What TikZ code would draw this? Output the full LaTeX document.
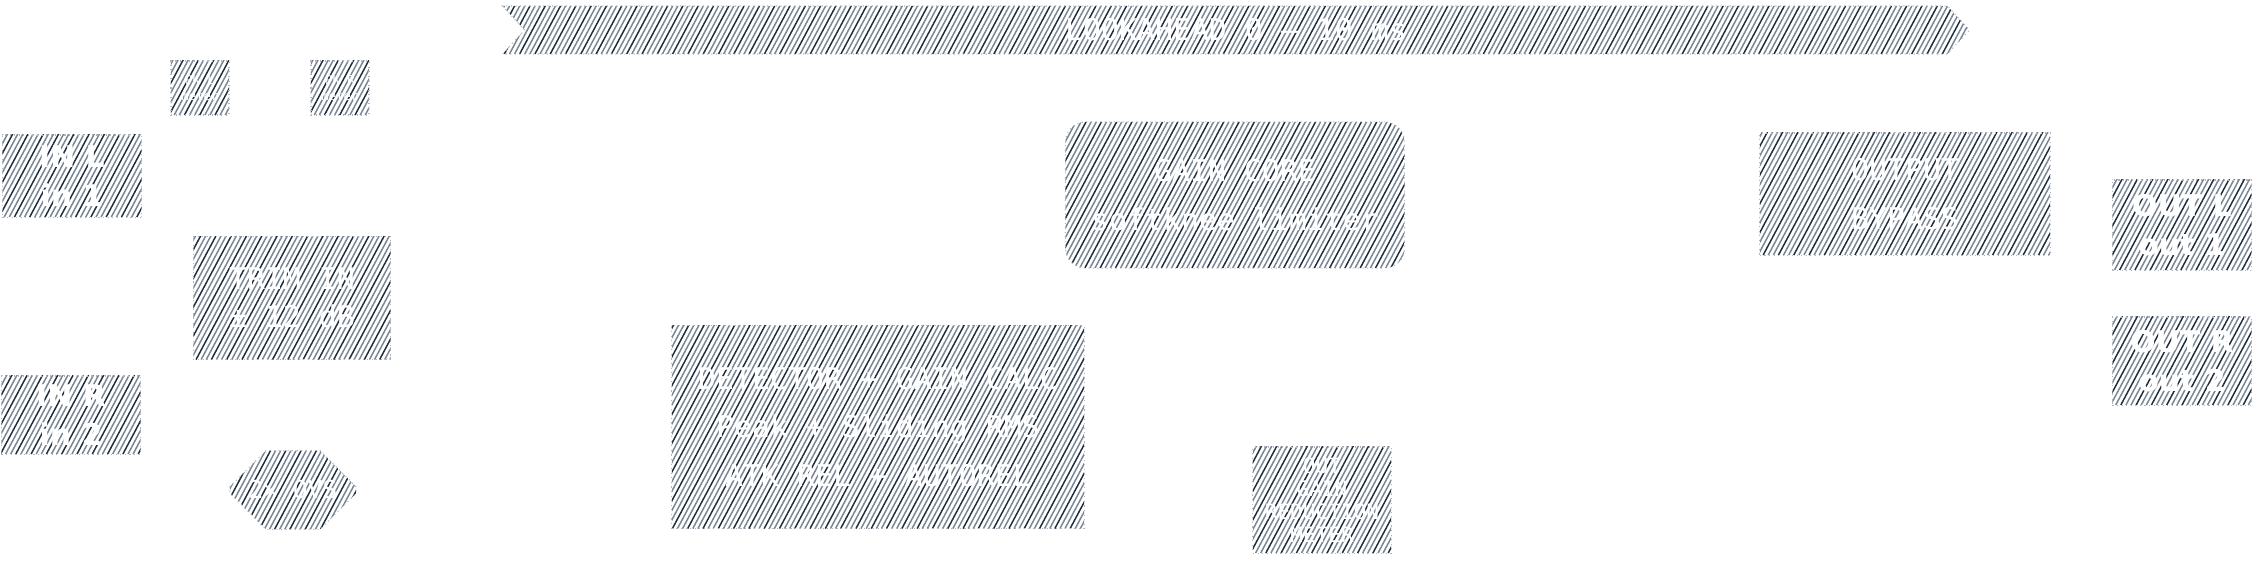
\documentclass[tikz,border=0pt]{standalone}
\usepackage{fontspec}
\setmonofont{DejaVu Sans Mono}
\setsansfont{DejaVu Sans}
\usetikzlibrary{shapes.symbols,shapes.misc}
\definecolor{hatchcol}{RGB}{32,45,60}
\definecolor{hatchlite}{RGB}{122,134,147}

% Diagonal hatching inside the current node
\newcommand\hatchlines{%
  \pgfpointdiff{\pgfpointanchor{path picture bounding box}{south west}}%
    {\pgfpointanchor{path picture bounding box}{north east}}%
  \pgfgetlastxy{\hatchw}{\hatchh}%
  \pgfmathtruncatemacro{\hatchn}{(\hatchw+\hatchh)/1.45}%
  \foreach \k in {0,...,\hatchn}{%
    \pgfmathtruncatemacro{\kmod}{mod(\k,3)}%
    \ifnum\kmod=0 \def\hc{hatchcol}\else\def\hc{hatchlite}\fi
    \draw[\hc, solid, line width=0.42pt]
      ([xshift=-0.6*\hatchh+\k*1.45pt]path picture bounding box.south west)
      -- ++(62:1.2*\hatchh);
  }}

\begin{document}
\begin{tikzpicture}[x=0.01cm, y=-0.01cm,
  % Block styles
  hatched/.style={rectangle, path picture={\hatchlines},
    draw=hatchcol!35, densely dotted, line width=0.3pt,
    text=white, inner sep=0pt, align=center},
  monotxt/.style={font=\fontsize{8.5pt}{13.9pt}\selectfont\ttfamily},
  portbox/.style={hatched, minimum width=1.39cm,
    font=\fontsize{8.5pt}{11pt}\selectfont\sffamily\bfseries},
  tinybox/.style={hatched, minimum width=0.58cm, minimum height=0.54cm,
    font=\fontsize{3.5pt}{4.5pt}\selectfont\ttfamily},
  procbox/.style={hatched, monotxt},
  % Banner style
  banner/.style={hatched, signal, signal to=east, signal from=west,
    signal pointer angle=95, monotxt},
]

% Picture frame
\useasboundingbox (0,0) rectangle (2253,584);

% Lookahead banner
\node[banner, minimum width=14.66cm, minimum height=0.48cm] (look) at (1236,30)
  {LOOKAHEAD 0 – 10 ms};

% --- Input side ---
\node[tinybox] (pkl) at (200,88) {PK L\\meter};
\node[tinybox] (pkr) at (340,88) {PK R\\meter};
\node[portbox, minimum height=0.82cm] (inl) at (72,176) {IN L\\in 1};
\node[procbox, minimum width=1.97cm, minimum height=1.23cm, font=\fontsize{8.5pt}{10.8pt}\selectfont\ttfamily]
  (trim) at (292,298) {TRIM IN\\± 12 dB};
\node[portbox, minimum height=0.78cm] (inr) at (71,415) {IN R\\in 2};
\node[hatched, chamfered rectangle, chamfered rectangle xsep=0.06cm,
  chamfered rectangle ysep=0.3cm, minimum width=1.26cm, minimum height=0.74cm,
  font=\fontsize{7pt}{8pt}\selectfont\ttfamily] (ovs) at (293,490) {2× OVS};

% --- Processing ---
\node[procbox, minimum width=4.12cm, minimum height=2.03cm] (det) at (878,427)
  {DETECTOR + GAIN CALC\\Peak + Sliding RMS\\ATK REL + AUTOREL};
\node[procbox, rounded corners=0.2cm, minimum width=3.39cm, minimum height=1.46cm]
  (core) at (1235,195) {GAIN CORE\\softknee limiter};
\node[hatched, minimum width=1.38cm, minimum height=1.06cm,
  font=\fontsize{6pt}{6.5pt}\selectfont\ttfamily] (grm) at (1322,500)
  {OUT\\GAIN\\REDUCTION\\METER};

% --- Output side ---
\node[procbox, minimum width=2.9cm, minimum height=1.22cm] (byp) at (1905,194)
  {OUTPUT\\BYPASS};
\node[portbox, minimum height=0.9cm] (outl) at (2182,225) {OUT L\\out 1};
\node[portbox, minimum height=0.88cm] (outr) at (2182,361) {OUT R\\out 2};

\end{tikzpicture}
\end{document}
